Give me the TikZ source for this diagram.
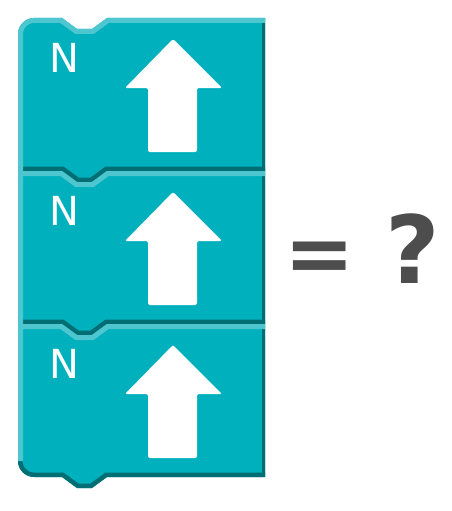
\documentclass[tikz,border=0pt]{standalone}
\usepackage{fontspec}
\setmainfont{DejaVu Sans}
\definecolor{blockteal}{HTML}{00B0BD}
\definecolor{blocklight}{HTML}{4EC6D0}
\definecolor{blockdark}{HTML}{006E73}
\definecolor{signgray}{HTML}{4D4D4D}
\begin{document}
\begin{tikzpicture}[x=1pt,y=-1pt]
	% Fix the canvas
	\useasboundingbox (0,0) rectangle (451,511);
	% Draw the three stacked blocks (top, label, arrow)
	\foreach \t/\rt/\rb/\i in {18/16/0/1,171/0/0/2,324/0/16/3}{
		\pgfmathsetmacro{\b}{\t+153}
		\begin{scope}[fill=blockteal]
			\path[fill,clip] (18,\b-\rb) -- (18,\t+\rt) .. controls (18,\t+0.45*\rt) and (18+0.45*\rt,\t) .. (18+\rt,\t)
				-- (62,\t) -- (77,\t+11) -- (92,\t+11) -- (107,\t) -- (265,\t) -- (265,\b)
				-- (107,\b) -- (92,\b+11) -- (77,\b+11) -- (62,\b) -- (18+\rb,\b)
				.. controls (18+0.45*\rb,\b) and (18,\b-0.45*\rb) .. (18,\b-\rb) -- cycle;
			% dark edge on right and bottom
			\draw[blockdark,line width=6] (265,\t) -- (265,\b);
			\draw[blockdark,line width=9] (268,\b) -- (107,\b) -- (92,\b+11) -- (77,\b+11)
				-- (62,\b) -- (18+\rb,\b) .. controls (18+0.45*\rb,\b) and (18,\b-0.45*\rb) .. (18,\b-\rb);
			% light edge on top and left
			\draw[blocklight,line width=10] (18,\b-\rb) -- (18,\t+\rt) .. controls (18,\t+0.45*\rt) and (18+0.45*\rt,\t) .. (18+\rt,\t)
				-- (62,\t) -- (77,\t+11) -- (92,\t+11) -- (107,\t) -- (265,\t);
			% up arrow
			\fill[white,rounded corners=2] (173,\t+21) -- (222,\t+70) -- (197,\t+70) -- (197,\t+134)
				-- (148,\t+134) -- (148,\t+70) -- (125,\t+70) -- cycle;
		\end{scope}
		\node[anchor=base,text=white,font=\fontsize{40}{40}\selectfont] (n\i) at (64,\t+54) {N};
	}
	% Add the question
	\node[anchor=base,text=signgray,font=\bfseries\fontsize{84}{84}\selectfont] (eq) at (320,282) {=};
	\node[anchor=base,text=signgray,font=\bfseries\fontsize{94}{94}\selectfont] (qm) at (413,283) {?};
\end{tikzpicture}
\end{document}
